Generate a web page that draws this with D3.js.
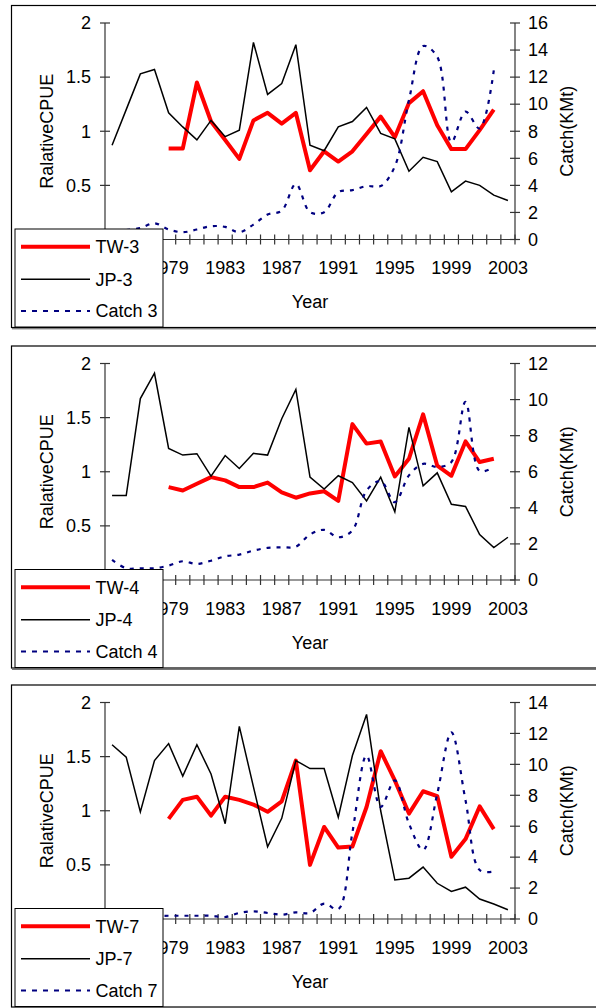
<!DOCTYPE html>
<html><head><meta charset="utf-8">
<script src="https://cdn.jsdelivr.net/npm/d3@7"></script>
<style>
body{margin:0;background:#fff}
svg{display:block}
text{font-family:"Liberation Sans",Arial,sans-serif;fill:#000}
</style>
</head><body>
<svg id="c" width="596" height="1008"></svg>
<script>
const years=[1975,1976,1977,1978,1979,1980,1981,1982,1983,1984,1985,1986,1987,1988,1989,1990,1991,1992,1993,1994,1995,1996,1997,1998,1999,2000,2001,2002,2003];
const yearLabels=[1979,1983,1987,1991,1995,1999,2003];
const cpueTicks=[0,0.5,1,1.5,2];

const tw3=[null,null,null,null,0.84,0.84,1.45,1.09,0.92,0.745,1.10,1.17,1.07,1.17,0.64,0.815,0.72,0.815,0.975,1.135,0.945,1.26,1.37,1.055,0.835,0.835,1.01,1.20,null];
const jp3=[0.87,1.20,1.53,1.57,1.17,1.04,0.92,1.10,0.95,1.01,1.82,1.34,1.44,1.80,0.87,0.82,1.04,1.09,1.22,0.98,0.93,0.63,0.76,0.72,0.44,0.54,0.50,0.41,0.36];
const catch3=[null,0.7,0.85,1.2,0.74,0.54,0.74,0.98,0.93,0.54,1.1,1.84,2.13,4.1,2.02,2.02,3.5,3.65,3.95,3.95,5.4,10.3,14.3,13.5,7.2,9.45,8.2,12.5,null];
const catchTicks3=[0,2,4,6,8,10,12,14,16];

const tw4=[null,null,null,null,0.858,0.827,0.889,0.95,0.92,0.858,0.858,0.90,0.81,0.76,0.80,0.82,0.73,1.44,1.26,1.28,0.957,1.12,1.53,1.056,0.963,1.28,1.09,1.12,null];
const jp4=[0.78,0.78,1.676,1.91,1.216,1.154,1.167,0.96,1.15,1.03,1.17,1.154,1.49,1.76,0.95,0.84,0.963,0.90,0.73,0.95,0.63,1.41,0.87,0.99,0.70,0.68,0.42,0.30,0.395];
const catch4=[1.11,0.65,0.65,0.65,0.80,1.04,0.89,1.07,1.31,1.41,1.63,1.78,1.81,1.85,2.52,2.78,2.37,2.75,4.96,5.48,4.31,5.8,6.44,6.26,6.54,9.87,6.04,6.26,null];
const catchTicks4=[0,2,4,6,8,10,12];

const tw7=[null,null,null,null,0.925,1.10,1.13,0.955,1.13,1.10,1.057,0.99,1.087,1.464,0.50,0.85,0.66,0.67,1.035,1.55,1.28,0.974,1.18,1.136,0.575,0.738,1.04,0.83,null];
const jp7=[1.61,1.495,0.99,1.464,1.62,1.32,1.61,1.34,0.88,1.78,1.22,0.667,0.93,1.464,1.39,1.39,0.94,1.51,1.89,1.0,0.36,0.377,0.48,0.33,0.255,0.294,0.184,0.138,0.086];
const catch7=[null,null,null,0.2,0.21,0.21,0.21,0.21,0.13,0.39,0.49,0.39,0.28,0.43,0.39,1.0,0.64,5.6,10.57,7.25,8.96,6.17,4.46,8.1,12.07,7.68,3.17,3.07,null];
const catchTicks7=[0,2,4,6,8,10,12,14];

const panels=[
  {top:5.5, tw:tw3, jp:jp3, ct:catch3, ticks:catchTicks3, names:["TW-3","JP-3","Catch 3"]},
  {top:346, tw:tw4, jp:jp4, ct:catch4, ticks:catchTicks4, names:["TW-4","JP-4","Catch 4"]},
  {top:685, tw:tw7, jp:jp7, ct:catch7, ticks:catchTicks7, names:["TW-7","JP-7","Catch 7"]}
];

const svg=d3.select("#c");
const X0=105, X1=515, FS=18, AX="#333";
const x=d3.scaleBand().domain(years).range([X0,X1]);
const cx=d=>x(d)+x.bandwidth()/2;

panels.forEach(p=>{
  const g=svg.append("g");
  const yT=p.top+17.5, yB=p.top+234;
  const y=d3.scaleLinear().domain([0,2]).range([yB,yT]);
  const y2=d3.scaleLinear().domain([0,d3.max(p.ticks)]).range([yB,yT]);

  g.append("rect").attr("x",11.5).attr("y",p.top).attr("width",600).attr("height",322)
    .attr("fill","none").attr("stroke","#000").attr("stroke-width",1.2);
  g.append("line").attr("x1",12).attr("x2",600).attr("y1",p.top+323.3).attr("y2",p.top+323.3)
    .attr("stroke","#555").attr("stroke-width",1);

  g.append("line").attr("x1",X0).attr("x2",X0).attr("y1",yT).attr("y2",yB).attr("stroke",AX).attr("stroke-width",1.2);
  g.append("line").attr("x1",X1).attr("x2",X1).attr("y1",y2.range()[1]).attr("y2",yB).attr("stroke",AX).attr("stroke-width",1.2);
  g.append("line").attr("x1",X0).attr("x2",X1).attr("y1",yB).attr("y2",yB).attr("stroke",AX).attr("stroke-width",1.2);

  cpueTicks.forEach(t=>{
    g.append("line").attr("x1",X0-5).attr("x2",X0+5).attr("y1",y(t)).attr("y2",y(t)).attr("stroke",AX).attr("stroke-width",1.2);
    if(t>0) g.append("text").attr("x",91).attr("y",y(t)).attr("dy","0.35em").attr("text-anchor","end")
      .attr("font-size",FS).text(t);
  });
  p.ticks.forEach(t=>{
    g.append("line").attr("x1",X1-5).attr("x2",X1+5).attr("y1",y2(t)).attr("y2",y2(t)).attr("stroke",AX).attr("stroke-width",1.2);
    g.append("text").attr("x",528).attr("y",y2(t)).attr("dy","0.35em").attr("text-anchor","start")
      .attr("font-size",FS).text(t);
  });
  const bounds=years.map(d=>x(d)).concat([x.range()[1]]);
  bounds.forEach(b=>{
    g.append("line").attr("x1",b).attr("x2",b).attr("y1",yB-5).attr("y2",yB+5).attr("stroke",AX).attr("stroke-width",1.2);
  });
  yearLabels.forEach(yr=>{
    g.append("text").attr("x",cx(yr)).attr("y",yB+34.5).attr("text-anchor","middle").attr("font-size",FS).text(yr);
  });
  g.append("text").attr("x",(X0+X1)/2).attr("y",yB+68.5).attr("text-anchor","middle").attr("font-size",FS).text("Year");

  const ym=(yT+yB)/2;
  g.append("text").attr("transform",`translate(53,${ym}) rotate(-90)`).attr("text-anchor","middle").attr("font-size",FS).text("RalativeCPUE");
  g.append("text").attr("transform",`translate(573,${ym}) rotate(-90)`).attr("text-anchor","middle").attr("font-size",FS).text("Catch(KMt)");

  const idx=years.map((d,i)=>i);
  const lineL=arr=>d3.line().defined(i=>arr[i]!=null).x(i=>cx(years[i])).y(i=>y(arr[i]))(idx);
  const lineR=arr=>d3.line().defined(i=>arr[i]!=null).x(i=>cx(years[i])).y(i=>y2(arr[i])).curve(d3.curveCatmullRom.alpha(0.5))(idx);
  g.append("path").attr("d",lineL(p.tw)).attr("fill","none").attr("stroke","#ff0000").attr("stroke-width",4).attr("stroke-linejoin","round");
  g.append("path").attr("d",lineL(p.jp)).attr("fill","none").attr("stroke","#000").attr("stroke-width",1.5);
  g.append("path").attr("d",lineR(p.ct)).attr("fill","none").attr("stroke","#000080").attr("stroke-width",2.2).attr("stroke-dasharray","4,6");

  const lx=15, ly=p.top+223.5;
  g.append("rect").attr("x",lx).attr("y",ly).attr("width",148).attr("height",98)
    .attr("fill","#fff").attr("stroke","#000").attr("stroke-width",1);
  const styles=[{c:"#ff0000",w:4,d:null},{c:"#000",w:1.5,d:null},{c:"#000080",w:2.2,d:"5,6"}];
  const rows=[17.7,50.3,82];
  p.names.forEach((n,i)=>{
    const yy=ly+rows[i];
    const l=g.append("line").attr("x1",21).attr("x2",90).attr("y1",yy).attr("y2",yy)
      .attr("stroke",styles[i].c).attr("stroke-width",styles[i].w);
    if(styles[i].d) l.attr("stroke-dasharray",styles[i].d);
    g.append("text").attr("x",95.5).attr("y",yy).attr("dy","0.35em").attr("font-size",FS).text(n);
  });
});
</script>
</body></html>
